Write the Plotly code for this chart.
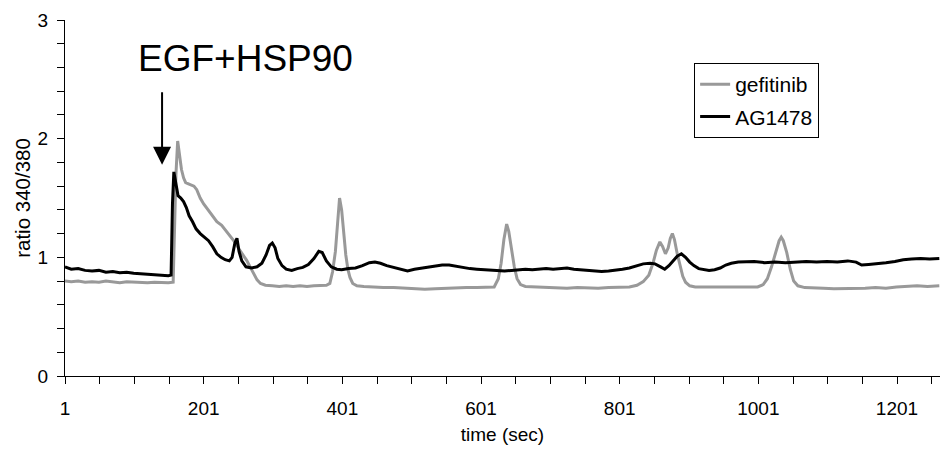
import plotly.graph_objects as go

# ---- data ----
gef_t = [1, 10, 20, 30, 40, 50, 60, 70, 80, 90, 100, 110, 120, 130, 140, 150, 157, 159, 161, 163.5, 166, 169, 172, 175, 179, 183, 187, 191, 196, 201, 207, 213, 220, 227, 234, 241, 247, 253, 258, 263, 268, 273, 278, 283, 290, 300, 310, 320, 330, 340, 350, 360, 370, 378, 383, 387, 391, 394, 397, 400, 403, 406, 409, 412, 416, 422, 432, 445, 460, 475, 490, 505, 520, 535, 550, 565, 580, 595, 610, 620, 626, 630, 634, 638, 641, 645, 649, 653, 658, 665, 680, 695, 710, 725, 740, 755, 770, 785, 800, 815, 826, 835, 843, 849, 854, 859, 863, 867, 871, 874, 877, 880, 884, 888, 892, 896, 902, 910, 925, 940, 955, 970, 985, 1000, 1008, 1014, 1020, 1026, 1031, 1034, 1037, 1042, 1047, 1052, 1058, 1068, 1080, 1095, 1110, 1125, 1140, 1155, 1170, 1185, 1200, 1215, 1230, 1245, 1262]
gef_v = [0.80, 0.795, 0.80, 0.79, 0.795, 0.79, 0.80, 0.79, 0.785, 0.795, 0.79, 0.79, 0.785, 0.79, 0.785, 0.785, 0.79, 1.20, 1.70, 1.98, 1.88, 1.74, 1.67, 1.63, 1.62, 1.61, 1.60, 1.57, 1.50, 1.45, 1.40, 1.35, 1.30, 1.27, 1.22, 1.17, 1.12, 1.06, 1.02, 0.975, 0.92, 0.86, 0.81, 0.78, 0.765, 0.76, 0.755, 0.76, 0.755, 0.76, 0.755, 0.76, 0.76, 0.765, 0.78, 0.88, 1.05, 1.30, 1.50, 1.40, 1.20, 1.02, 0.90, 0.83, 0.78, 0.76, 0.755, 0.75, 0.745, 0.745, 0.74, 0.735, 0.73, 0.735, 0.74, 0.74, 0.745, 0.745, 0.745, 0.75, 0.82, 0.95, 1.15, 1.28, 1.22, 1.06, 0.92, 0.82, 0.77, 0.755, 0.75, 0.745, 0.745, 0.74, 0.745, 0.74, 0.74, 0.745, 0.745, 0.75, 0.765, 0.795, 0.85, 0.95, 1.06, 1.13, 1.09, 1.03, 1.08, 1.16, 1.20, 1.15, 1.03, 0.92, 0.84, 0.79, 0.76, 0.75, 0.75, 0.745, 0.75, 0.75, 0.745, 0.75, 0.77, 0.82, 0.92, 1.04, 1.14, 1.17, 1.14, 1.04, 0.90, 0.80, 0.76, 0.745, 0.74, 0.74, 0.735, 0.735, 0.74, 0.74, 0.745, 0.74, 0.75, 0.755, 0.76, 0.755, 0.76]

ag_t = [1, 10, 20, 30, 40, 50, 60, 70, 80, 90, 100, 110, 120, 130, 140, 150, 154, 156, 158, 161, 164, 168, 172, 176, 180, 185, 190, 196, 202, 208, 214, 220, 226, 232, 238, 242, 246, 249, 252, 256, 262, 270, 278, 285, 291, 296, 300, 304, 308, 314, 320, 328, 336, 344, 352, 360, 367, 372, 378, 385, 393, 400, 410, 420, 430, 440, 448, 456, 465, 475, 485, 495, 505, 515, 525, 535, 545, 555, 565, 575, 585, 595, 605, 615, 625, 635, 645, 655, 665, 675, 685, 695, 705, 715, 725, 735, 745, 755, 765, 775, 785, 795, 805, 815, 825, 835, 845, 852, 860, 866, 872, 878, 884, 890, 896, 902, 908, 915, 922, 930, 938, 946, 954, 962, 972, 985, 995, 1010, 1025, 1040, 1055, 1070, 1085, 1100, 1115, 1130, 1142, 1150, 1160, 1172, 1185, 1198, 1210, 1222, 1235, 1248, 1262]
ag_v = [0.92, 0.90, 0.905, 0.89, 0.885, 0.89, 0.875, 0.88, 0.87, 0.875, 0.865, 0.86, 0.855, 0.85, 0.85, 0.845, 0.85, 1.45, 1.72, 1.62, 1.52, 1.50, 1.47, 1.42, 1.35, 1.30, 1.24, 1.20, 1.17, 1.14, 1.09, 1.03, 1.00, 0.98, 0.97, 1.00, 1.12, 1.16, 1.05, 0.97, 0.92, 0.91, 0.92, 0.95, 1.02, 1.10, 1.12, 1.08, 0.99, 0.93, 0.90, 0.89, 0.905, 0.915, 0.94, 0.99, 1.05, 1.04, 0.97, 0.92, 0.90, 0.895, 0.905, 0.91, 0.93, 0.955, 0.96, 0.95, 0.93, 0.915, 0.90, 0.885, 0.90, 0.91, 0.92, 0.93, 0.935, 0.935, 0.925, 0.91, 0.905, 0.90, 0.895, 0.895, 0.89, 0.885, 0.89, 0.895, 0.90, 0.895, 0.90, 0.905, 0.90, 0.905, 0.91, 0.90, 0.895, 0.89, 0.885, 0.88, 0.885, 0.89, 0.90, 0.91, 0.93, 0.945, 0.95, 0.945, 0.92, 0.90, 0.93, 0.975, 1.01, 1.03, 1.00, 0.96, 0.93, 0.905, 0.895, 0.89, 0.895, 0.91, 0.935, 0.95, 0.96, 0.96, 0.965, 0.955, 0.96, 0.955, 0.96, 0.965, 0.96, 0.965, 0.96, 0.97, 0.96, 0.935, 0.94, 0.95, 0.955, 0.965, 0.98, 0.985, 0.99, 0.985, 0.99]

series_names = ["gefitinib", "AG1478"]
x_tick_vals = [1, 201, 401, 601, 801, 1001, 1201]
x_tick_text = ["1", "201", "401", "601", "801", "1001", "1201"]
y_tick_vals = [0, 1, 2, 3]
y_tick_text = ["0", "1", "2", "3"]

FONT = "Liberation Sans, Arial, sans-serif"

fig = go.Figure()
fig.add_trace(go.Scatter(x=gef_t, y=gef_v, mode="lines", name=series_names[0],
                         legendgroup="g1",
                         line=dict(color="#999999", width=3)))
fig.add_trace(go.Scatter(x=ag_t, y=ag_v, mode="lines", name=series_names[1],
                         legendgroup="g2",
                         line=dict(color="#000000", width=3)))

fig.update_layout(
    width=940, height=450,
    margin=dict(l=65, r=0, t=20, b=74, autoexpand=False),
    paper_bgcolor="white", plot_bgcolor="white",
    font=dict(family=FONT, size=19, color="black"),
    showlegend=True,
    legend=dict(x=0.719, y=0.879, xanchor="left", yanchor="top",
                bordercolor="black", borderwidth=1, bgcolor="white",
                traceorder="grouped", tracegroupgap=2,
                font=dict(size=21, family=FONT)),
    xaxis=dict(range=[1, 1263], showgrid=False, zeroline=False, automargin=False,
               showline=True, linecolor="black", linewidth=1,
               tickmode="array", tickvals=x_tick_vals, ticktext=x_tick_text,
               ticks="outside", ticklen=7, tickcolor="black", tickwidth=1,
               ticklabelstandoff=8,
               minor=dict(tickmode="linear", tick0=1, dtick=50, ticks="outside",
                          ticklen=7, tickcolor="black", tickwidth=1, showgrid=False),
               title=dict(text="time (sec)", font=dict(size=19), standoff=9)),
    yaxis=dict(range=[0, 3], showgrid=False, zeroline=False, automargin=False,
               showline=True, linecolor="black", linewidth=1,
               tickmode="array", tickvals=y_tick_vals, ticktext=y_tick_text,
               ticks="outside", ticklen=7, tickcolor="black", tickwidth=1,
               ticklabelstandoff=5,
               minor=dict(tickmode="linear", tick0=0, dtick=0.2, ticks="outside",
                          ticklen=7, tickcolor="black", tickwidth=1, showgrid=False),
               title=dict(text="ratio 340/380", font=dict(size=20.5), standoff=1)),
)

fig.add_annotation(x=141, y=1.78, xref="x", yref="y", ax=0, ay=-74,
                   axref="pixel", ayref="pixel", text="", showarrow=True,
                   arrowhead=2, arrowsize=1.8, arrowwidth=2, arrowcolor="black")
fig.add_annotation(x=0.206, y=0.893, xref="paper", yref="paper",
                   text="EGF+HSP90", showarrow=False,
                   font=dict(size=37, family=FONT, color="black"),
                   xanchor="center", yanchor="middle")

fig.write_html("out.html", config={"displayModeBar": False},
               post_script="document.body.style.margin='0px';")
